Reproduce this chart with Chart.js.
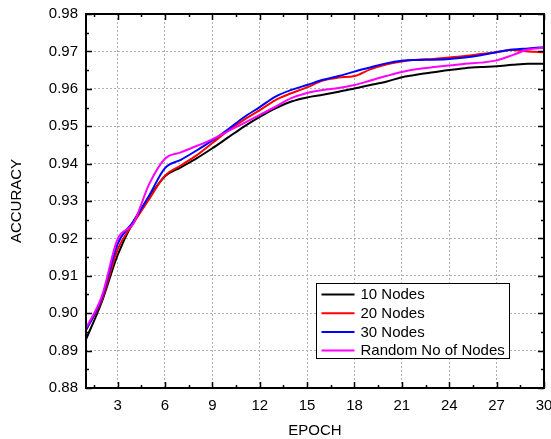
<!DOCTYPE html>
<html>
<head>
<meta charset="utf-8">
<script src="https://cdn.jsdelivr.net/npm/chart.js@4.4.1/dist/chart.umd.min.js"></script>
<style>
  html, body { margin: 0; padding: 0; background: #fff; }
  #wrap { width: 551px; height: 439px; }
</style>
</head>
<body>
<div id="wrap"><canvas id="c" width="551" height="439"></canvas></div>
<script>
// accuracy per epoch for each node setting
const epochs = [1, 2, 3, 4, 5, 6, 7, 8, 9, 10, 11, 12, 13, 14, 15, 16, 17, 18, 19, 20, 21, 22, 23, 24, 25, 26, 27, 28, 29, 30];
const nodes10 = [0.8930, 0.9030, 0.9155, 0.9245, 0.9310, 0.9366, 0.9390, 0.9414, 0.9441, 0.9470, 0.9499, 0.9525, 0.9548, 0.9566, 0.9577, 0.9584, 0.9592, 0.9601, 0.9610, 0.9619, 0.9631, 0.9638, 0.9644, 0.9650, 0.9655, 0.9658, 0.9660, 0.9664, 0.9667, 0.9667];
const nodes20 = [0.8955, 0.9035, 0.9170, 0.9240, 0.9305, 0.9368, 0.9395, 0.9422, 0.9455, 0.9488, 0.9517, 0.9543, 0.9570, 0.9588, 0.9604, 0.9622, 0.9630, 0.9634, 0.9652, 0.9665, 0.9673, 0.9678, 0.9680, 0.9684, 0.9688, 0.9693, 0.9698, 0.9704, 0.9700, 0.9698];
const nodes30 = [0.8955, 0.9040, 0.9185, 0.9245, 0.9315, 0.9388, 0.9410, 0.9435, 0.9462, 0.9492, 0.9524, 0.9551, 0.9579, 0.9597, 0.9610, 0.9624, 0.9634, 0.9646, 0.9657, 0.9668, 0.9675, 0.9677, 0.9678, 0.9680, 0.9684, 0.9690, 0.9698, 0.9705, 0.9708, 0.9711];
const nodesRandom = [0.8960, 0.9045, 0.9198, 0.9240, 0.9345, 0.9413, 0.9430, 0.9447, 0.9465, 0.9487, 0.9508, 0.9530, 0.9552, 0.9575, 0.9589, 0.9597, 0.9602, 0.9610, 0.9622, 0.9634, 0.9645, 0.9653, 0.9658, 0.9662, 0.9667, 0.9670, 0.9676, 0.9690, 0.9705, 0.9710];

const seriesLabels = ["10 Nodes", "20 Nodes", "30 Nodes", "Random No of Nodes"];
const xTickValues = [3, 6, 9, 12, 15, 18, 21, 24, 27, 30];
const yTickValues = [0.88, 0.89, 0.90, 0.91, 0.92, 0.93, 0.94, 0.95, 0.96, 0.97, 0.98];

const FONT = "'Liberation Sans', Arial, sans-serif";
const colors = ["#000000", "#ff0000", "#0000ff", "#ff00ff"];

function line(label, data, color, order) {
  return {
    label,
    data: data.map((y, i) => ({ x: epochs[i], y })),
    borderColor: color,
    backgroundColor: color,
    borderWidth: 2,
    pointRadius: 0,
    cubicInterpolationMode: "monotone",
    order,
  };
}

// frame with inward major/minor ticks on all four sides, plus boxed legend
const frameAndLegend = {
  id: "frameAndLegend",
  afterDatasetsDraw(chart) {
    const { ctx, chartArea: a, scales } = chart;
    const xs = scales.x, ys = scales.y;
    ctx.save();
    ctx.strokeStyle = "#000";
    ctx.beginPath();
    for (let v = 1.5; v <= 30; v += 1.5) {
      const px = Math.round(xs.getPixelForValue(v)) + 0.5;
      const len = Number.isInteger(v / 3) ? 6 : 3;
      ctx.moveTo(px, a.bottom); ctx.lineTo(px, a.bottom - len);
      ctx.moveTo(px, a.top); ctx.lineTo(px, a.top + len);
    }
    for (let k = 0; k <= 20; k++) {
      const v = 0.88 + k * 0.005;
      const py = Math.round(ys.getPixelForValue(v)) + 0.5;
      const len = k % 2 === 0 ? 6 : 3;
      ctx.moveTo(a.left, py); ctx.lineTo(a.left + len, py);
      ctx.moveTo(a.right, py); ctx.lineTo(a.right - len, py);
    }
    ctx.lineWidth = 1.5;
    ctx.stroke();
    ctx.lineWidth = 2;
    ctx.strokeRect(a.left, a.top, a.right - a.left, a.bottom - a.top);

    // legend
    const bw = 193, bh = 75;
    const bx = Math.round(a.right - 35 - bw) + 0.5;
    const by = Math.round(a.bottom - 30 - bh) + 0.5;
    ctx.fillStyle = "#fff";
    ctx.fillRect(bx, by, bw, bh);
    ctx.lineWidth = 1;
    ctx.strokeRect(bx, by, bw, bh);
    ctx.font = "15px " + FONT;
    ctx.textBaseline = "middle";
    ctx.textAlign = "left";
    chart.data.datasets.forEach((ds, i) => {
      const ry = by + 11 + i * 18.7;
      ctx.strokeStyle = ds.borderColor;
      ctx.lineWidth = 2;
      ctx.beginPath();
      ctx.moveTo(bx + 5, ry); ctx.lineTo(bx + 38, ry);
      ctx.stroke();
      ctx.fillStyle = "#000";
      ctx.fillText(ds.label, bx + 44, ry + 0.5);
    });
    ctx.restore();
  },
};

new Chart(document.getElementById("c"), {
  type: "line",
  data: {
    datasets: [
      line(seriesLabels[0], nodes10, colors[0], 3),
      line(seriesLabels[1], nodes20, colors[1], 2),
      line(seriesLabels[2], nodes30, colors[2], 1),
      line(seriesLabels[3], nodesRandom, colors[3], 0),
    ],
  },
  options: {
    responsive: false,
    animation: false,
    events: [],
    layout: { padding: { top: 14, right: 7, left: 0, bottom: 0 } },
    plugins: { legend: { display: false }, tooltip: { enabled: false } },
    scales: {
      x: {
        type: "linear",
        min: 1,
        max: 30,
        afterBuildTicks: (s) => { s.ticks = xTickValues.map((value) => ({ value })); },
        afterFit: (s) => { s.height = 51; s.paddingLeft = 0; s.paddingRight = 0; },
        grid: { color: "#b0b0b0", lineWidth: 1, drawTicks: false },
        border: { display: false, dash: [2, 2] },
        ticks: { color: "#000", font: { family: FONT, size: 15 }, padding: 9, maxRotation: 0 },
        title: {
          display: true,
          text: "EPOCH",
          color: "#000",
          font: { family: FONT, size: 15, lineHeight: 1 },
          padding: { top: 0, bottom: 0.5 },
        },
      },
      y: {
        min: 0.88,
        max: 0.98,
        afterBuildTicks: (s) => { s.ticks = yTickValues.map((value) => ({ value })); },
        afterFit: (s) => { s.width = 86; s.paddingTop = 0; s.paddingBottom = 0; },
        grid: { color: "#b0b0b0", lineWidth: 1, drawTicks: false },
        border: { display: false, dash: [2, 2] },
        ticks: {
          color: "#000",
          font: { family: FONT, size: 15 },
          padding: 8,
          callback: (v) => v.toFixed(2),
        },
        title: {
          display: true,
          text: "ACCURACY",
          color: "#000",
          font: { family: FONT, size: 15, lineHeight: 1 },
          padding: { top: 9.5, bottom: 0 },
        },
      },
    },
  },
  plugins: [frameAndLegend],
});
</script>
</body>
</html>
